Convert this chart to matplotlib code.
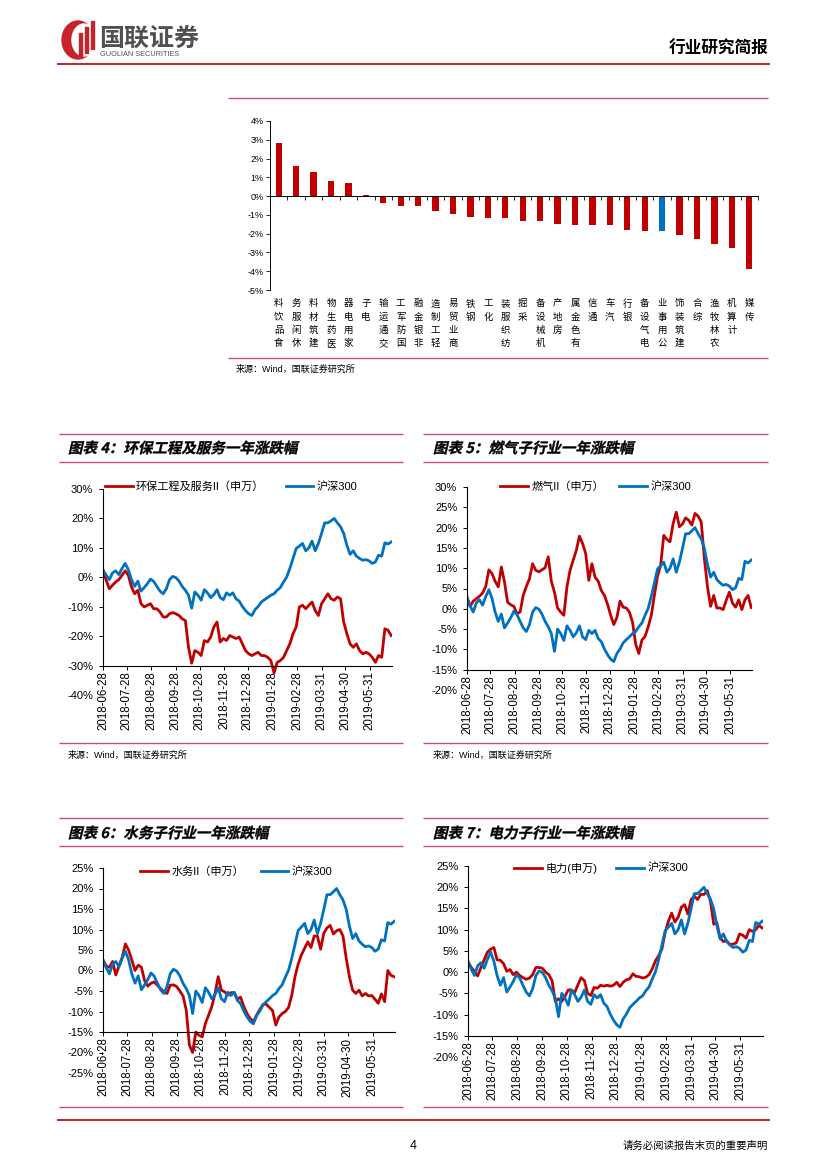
import matplotlib
matplotlib.use('Agg')
import matplotlib.pyplot as plt
import numpy as np
import pandas as pd
from matplotlib.patches import Ellipse, Rectangle, PathPatch
from matplotlib.textpath import TextPath
from matplotlib.font_manager import FontProperties
from matplotlib.ticker import FuncFormatter
import matplotlib.transforms as mtransforms

plt.rcParams['font.family'] = ['Liberation Sans', 'Noto Sans CJK SC']
plt.rcParams['axes.unicode_minus'] = False

# ---------------- data ----------------
industries = ['食品饮料', '休闲服务', '建筑材料', '医药生物', '家用电器', '电子', '交通运输',
              '国防军工', '非银金融', '轻工制造', '商业贸易', '钢铁', '化工', '纺织服装',
              '采掘', '机械设备', '房地产', '有色金属', '通信', '汽车', '银行', '电气设备',
              '公用事业', '建筑装饰', '综合', '农林牧渔', '计算机', '传媒']
changes = [2.85, 1.6, 1.3, 0.8, 0.72, 0.07, -0.38, -0.55, -0.55, -0.78, -0.97, -1.12,
           -1.15, -1.15, -1.35, -1.35, -1.5, -1.55, -1.55, -1.55, -1.82, -1.85, -1.85,
           -2.05, -2.28, -2.55, -2.75, -3.9]
highlight = '公用事业'

dates = pd.date_range('2018-06-28', periods=92, freq='4D')
tick_dates = ['2018-06-28', '2018-07-28', '2018-08-28', '2018-09-28', '2018-10-28',
              '2018-11-28', '2018-12-28', '2019-01-28', '2019-02-28', '2019-03-31',
              '2019-04-30', '2019-05-31']

hs300 = [2.5, 0.7, -0.8, 1.5, 2.2, 0.9, 3.0, 4.7, 2.6, -0.8,
         -3.1, -1.3, -4.7, -3.5, -2.2, -0.6, -1.4, -3.1, -4.7, -5.6,
         -3.9, -0.8, 0.3, -0.1, -1.3, -3.1, -4.4, -6.1, -10.5, -5.0,
         -6.1, -7.8, -4.2, -5.3, -6.9, -5.9, -4.2, -6.9, -7.6, -5.3,
         -6.1, -5.3, -7.3, -8.1, -9.9, -11.3, -12.4, -13.0, -11.0, -9.9,
         -8.4, -7.6, -6.9, -6.1, -5.6, -4.4, -3.5, -1.6, 0.1, 3.0,
         6.4, 9.8, 10.6, 11.5, 9.0, 10.0, 12.3, 9.0, 11.5, 14.9,
         18.5, 18.5, 19.2, 20.0, 18.5, 17.2, 14.9, 10.9, 7.8, 9.0,
         7.2, 6.4, 5.8, 6.0, 5.6, 4.7, 5.2, 7.5, 7.2, 11.7,
         11.3, 12.0]

env = [2.5, -1.0, -3.9, -2.7, -1.6, -0.8, 0.7, 2.2, 0.7, -3.3,
       -5.6, -4.4, -9.0, -10.1, -9.5, -9.0, -10.7, -10.7, -11.8, -13.5,
       -13.5, -12.4, -12.0, -12.4, -13.0, -14.1, -14.7, -23.8, -29.2, -24.9,
       -25.5, -26.6, -21.5, -22.0, -20.3, -16.9, -15.2, -22.0, -20.8, -21.5,
       -19.8, -20.3, -20.8, -20.3, -22.6, -24.9, -26.0, -26.6, -26.0, -25.5,
       -26.6, -26.6, -27.2, -28.3, -32.5, -28.9, -28.3, -27.2, -24.9, -22.6,
       -19.2, -16.9, -10.1, -9.5, -10.7, -9.5, -8.4, -11.3, -13.0, -9.0,
       -7.3, -5.6, -7.3, -7.8, -6.7, -7.3, -15.2, -19.2, -22.6, -23.8,
       -22.6, -24.9, -26.0, -25.5, -26.0, -27.2, -28.9, -26.6, -27.2, -17.5,
       -18.0, -19.8]

gas = [2.9, 0.6, 1.9, 2.5, 3.1, 3.9, 5.5, 9.6, 8.7, 6.8,
       5.4, 10.3, 6.6, 1.6, 1.0, 0.6, -1.2, -0.8, 3.3, 5.5,
       7.4, 11.1, 9.5, 9.1, 9.6, 10.1, 12.8, 6.8, 4.1, 0.2,
       -0.8, -1.6, 5.4, 9.5, 12.0, 14.4, 17.9, 16.1, 13.6, 7.0,
       11.1, 7.8, 6.8, 4.5, 3.3, 1.1, -1.6, -3.9, -2.1, 1.9,
       0.4, 0.2, -0.8, -3.3, -8.7, -11.0, -7.7, -6.8, -4.5, -1.6,
       3.3, 8.0, 10.7, 18.1, 17.1, 16.5, 21.0, 23.8, 20.2, 20.9,
       22.4, 21.8, 20.6, 23.5, 22.8, 21.4, 12.4, 5.4, 0.6, 3.3,
       0.2, 0.2, -0.2, 2.1, 4.1, 1.4, 0.4, 2.2, -0.2, 2.2,
       3.3, 0.3]

water = [2.6, 1.1, 0.8, 2.2, -1.1, 1.1, 3.2, 6.5, 5.0, 2.6,
         0.0, 1.3, 0.8, -2.5, -3.8, -3.1, -2.8, -3.6, -4.4, -5.2,
         -5.6, -3.6, -3.5, -3.9, -5.0, -6.2, -9.6, -18.2, -20.0, -15.0,
         -15.8, -16.2, -12.9, -10.9, -8.8, -5.6, -1.5, -4.8, -5.2, -6.0,
         -5.4, -5.4, -7.0, -6.5, -8.8, -10.5, -11.7, -12.5, -10.9, -9.5,
         -8.3, -8.2, -9.0, -9.8, -13.3, -11.3, -10.5, -10.0, -9.0, -6.0,
         -1.5, 1.6, 3.8, 5.4, 7.0, 5.6, 8.4, 8.4, 5.2, 9.1,
         10.4, 11.0, 8.9, 9.7, 10.0, 8.4, 3.0, -1.5, -4.8, -5.6,
         -4.8, -6.2, -5.6, -6.2, -6.1, -7.0, -8.0, -5.7, -7.6, 0.0,
         -1.2, -1.5]

power = [2.5, 1.1, 0.2, -0.9, 1.1, 2.9, 4.7, 5.4, 5.8, 2.9,
         2.8, 2.0, 0.2, 0.6, -0.6, 0.0, -0.8, -1.3, -1.7, -1.4,
         -0.6, 1.1, 1.1, 0.9, 0.0, -0.6, -2.0, -6.9, -6.3, -6.9,
         -5.7, -4.2, -4.2, -4.8, -3.0, -1.3, -2.0, -5.0, -5.5, -3.6,
         -3.8, -3.1, -3.3, -3.1, -3.3, -3.1, -2.4, -3.4, -2.4, -1.8,
         -1.6, -0.4, -1.0, -1.1, -1.4, -1.2, -0.6, 0.8, 2.7, 3.9,
         5.5, 9.4, 12.0, 13.9, 11.8, 12.9, 15.3, 15.9, 13.7, 17.1,
         17.9, 17.1, 18.3, 18.3, 19.2, 16.7, 11.3, 11.6, 8.0, 7.2,
         7.4, 6.5, 6.6, 6.9, 9.0, 8.7, 8.0, 10.0, 9.6, 10.0,
         11.0, 10.4]

# ---------------- styling ----------------
RED = '#C00000'
BLUE = '#0070C0'
PINK = '#C4516B'
HEAD_RED = '#C8232C'
CJK = 'Noto Sans CJK SC'

W, H = 827, 1169
fig = plt.figure(figsize=(W / 100, H / 100), dpi=100)
fig.patch.set_facecolor('white')

page = fig.add_axes([0, 0, 1, 1])
page.set_xlim(0, W)
page.set_ylim(H, 0)
page.axis('off')


def rect(x0, x1, ytop, ybot):
    return [x0 / W, 1 - ybot / H, (x1 - x0) / W, (ybot - ytop) / H]


def hline(x0, x1, y, color=PINK, lw=1.0):
    page.plot([x0, x1], [y, y], color=color, lw=lw, solid_capstyle='butt')


def slanted(s, x, y, size=14.5, color='black', skew=13):
    fp = FontProperties(family=CJK, weight='bold')
    tp = TextPath((0, 0), s, size=size, prop=fp)
    tr = mtransforms.Affine2D().skew_deg(skew, 0).scale(1, -1).translate(x, y) + page.transData
    page.add_patch(PathPatch(tp, transform=tr, fc=color, ec=color, lw=0.25))


pct = FuncFormatter(lambda v, p: f'{v:.0f}%')

# ---------------- header ----------------
page.add_patch(Ellipse((78, 40), 32, 38, color=HEAD_RED))
page.add_patch(Ellipse((84, 40), 24, 32, color='white'))
for bx, btop, bbot in [(79, 33, 56), (84.5, 27, 53), (90.5, 21, 49)]:
    page.add_patch(Rectangle((bx, btop), 3.2, bbot - btop, color=HEAD_RED))
page.text(99, 39, '国联证券', fontsize=18, fontweight='bold', color='#505050',
          family=[CJK], ha='left', va='center')
page.text(100, 54, 'GUOLIAN SECURITIES', fontsize=5.3, color='#505050',
          family=['Liberation Sans'], ha='left', va='center')
page.text(768, 49, '行业研究简报', fontsize=12, fontweight='bold', color='black',
          family=[CJK], ha='right', va='center')
hline(57, 770, 64, color=HEAD_RED, lw=1.4)

# ---------------- top bar chart ----------------
hline(228, 768, 98)
hline(228, 768, 358)
page.text(236, 369, '来源：Wind，国联证券研究所', fontsize=6.5, ha='left', va='center')

axb = fig.add_axes(rect(270, 758, 121, 290))
axb.set_facecolor('none')
for s in ['top', 'right']:
    axb.spines[s].set_visible(False)
axb.spines['bottom'].set_position(('data', 0))
axb.spines['bottom'].set_zorder(4)
for s in ['bottom', 'left']:
    axb.spines[s].set_linewidth(0.7)
xb = np.arange(len(industries))
bcolors = [BLUE if n == highlight else RED for n in industries]
axb.bar(xb, changes, width=0.36, color=bcolors, zorder=3)
axb.set_xlim(-0.5, len(industries) - 0.5)
axb.set_ylim(-5, 4)
axb.set_yticks(np.arange(-5, 5, 1))
axb.yaxis.set_major_formatter(pct)
axb.set_xticks(np.arange(-0.5, len(industries), 1))
axb.set_xticklabels([])
axb.tick_params(axis='x', length=3, width=0.6, direction='out')
axb.tick_params(axis='y', length=3, width=0.6, labelsize=6.5, pad=1.5)
for i, name in enumerate(industries):
    for r, ch in enumerate(reversed(name)):
        axb.annotate(ch, xy=(i, -5), xytext=(0, -10.0 - r * 9.5), textcoords='offset points',
                     ha='center', va='center', fontsize=6.8, family=[CJK])

# ---------------- line panels ----------------
panels = [
    dict(title='图表 4：环保工程及服务一年涨跌幅', series=env, label='环保工程及服务II（申万）',
         box=(103, 392, 489, 695), ylim=(-40, 30), step=10, cross=-30,
         leg=(105, 487), colsp=1.9, tx=68, ty=453, lx=(59, 403), ly=(434, 462, 743), src=(68, 755)),
    dict(title='图表 5：燃气子行业一年涨跌幅', series=gas, label='燃气II（申万）',
         box=(467, 752, 487, 690), ylim=(-20, 30), step=5, cross=-15,
         leg=(500, 487), colsp=1.4, tx=433, ty=453, lx=(423, 768), ly=(434, 462, 743), src=(433, 755)),
    dict(title='图表 6：水务子行业一年涨跌幅', series=water, label='水务II（申万）',
         box=(103, 395, 868, 1073), ylim=(-25, 25), step=5, cross=-15,
         leg=(140, 872), colsp=1.5, tx=68, ty=838, lx=(59, 403), ly=(818, 846, 1107), src=None),
    dict(title='图表 7：电力子行业一年涨跌幅', series=power, label='电力(申万)',
         box=(468, 763, 866, 1057), ylim=(-20, 25), step=5, cross=-15,
         leg=(514, 868), colsp=1.7, tx=433, ty=838, lx=(423, 768), ly=(818, 846, 1107), src=None),
]

xstart, xend = pd.Timestamp('2018-06-28'), pd.Timestamp('2019-06-28')

for p in panels:
    for yy in p['ly']:
        hline(p['lx'][0], p['lx'][1], yy)
    slanted(p['title'], p['tx'], p['ty'])
    if p['src']:
        page.text(p['src'][0], p['src'][1], '来源：Wind，国联证券研究所', fontsize=6.5,
                  ha='left', va='center')

    ax = fig.add_axes(rect(*p['box']))
    ax.set_facecolor('none')
    ymin, ymax = p['ylim']
    # spine placement first (it resets tick styling)
    for s in ['top', 'right']:
        ax.spines[s].set_visible(False)
    ax.spines['bottom'].set_position(('data', p['cross']))
    ax.spines['left'].set_bounds(p['cross'], ymax)
    for s in ['bottom', 'left']:
        ax.spines[s].set_linewidth(0.8)

    ax.plot(dates, p['series'], color=RED, lw=2.0, label=p['label'], solid_joinstyle='round')
    ax.plot(dates, hs300, color=BLUE, lw=2.0, label='沪深300', solid_joinstyle='round')
    ax.set_xlim(xstart, xend)
    ax.set_ylim(ymin, ymax)
    ax.set_yticks(np.arange(ymin, ymax + 0.1, p['step']))
    ax.yaxis.set_major_formatter(pct)
    ax.set_xticks(pd.to_datetime(tick_dates))
    ax.set_xticklabels(tick_dates)
    ax.tick_params(axis='y', length=3, width=0.7, labelsize=8, pad=4)
    ax.tick_params(axis='x', length=3, width=0.7, pad=1, labelsize=8.3, labelrotation=90)
    for lbl in ax.get_xticklabels():
        lbl.set_rotation(90)
        lbl.set_ha('center')
        lbl.set_va('top')
    ax.yaxis.get_major_ticks()[0].tick1line.set_visible(False)
    ax.legend(loc='center left', bbox_to_anchor=(p['leg'][0] / W, 1 - p['leg'][1] / H),
              bbox_transform=fig.transFigure, ncol=2, frameon=False, fontsize=8,
              handlelength=2.5, handletextpad=0.3, columnspacing=p['colsp'],
              borderpad=0, borderaxespad=0)

# ---------------- footer ----------------
hline(57, 770, 1120, color=HEAD_RED, lw=1.4)
page.text(413, 1146, '4', fontsize=9, ha='center', va='center', family=['Liberation Sans'])
page.text(768, 1146, '请务必阅读报告末页的重要声明', fontsize=7.5, ha='right', va='center',
          family=[CJK])

fig.savefig('out.png', dpi=100)
